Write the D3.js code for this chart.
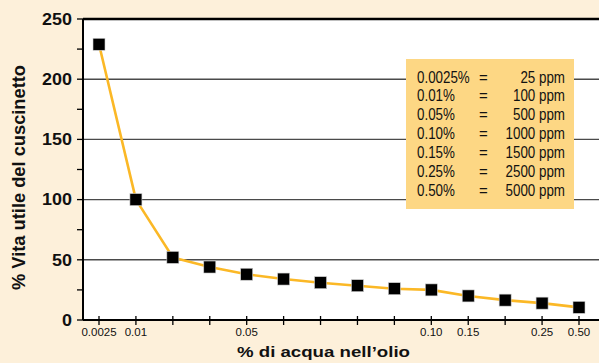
<!DOCTYPE html>
<html>
<head>
<meta charset="utf-8">
<script src="https://cdn.jsdelivr.net/npm/d3@7"></script>
<style>
  html, body { margin: 0; padding: 0; background: #fdf0da; }
  svg { display: block; }
</style>
</head>
<body>
<script>
// Bearing life vs. water content in oil
const positions = ["0.0025", "0.01", "p3", "p4", "0.05", "p6", "p7", "p8", "p9", "0.10", "0.15", "p12", "0.25", "0.50"];
const tickLabels = { "0.0025": "0.0025", "0.01": "0.01", "0.05": "0.05", "0.10": "0.10", "0.15": "0.15", "0.25": "0.25", "0.50": "0.50" };
const lifeValues = [229, 100, 52, 44, 38, 34, 31, 28.5, 26, 25, 20, 16.5, 14, 10.5];
const yTicks = [0, 50, 100, 150, 200, 250];
const legendPct = ["0.0025%", "0.01%", "0.05%", "0.10%", "0.15%", "0.25%", "0.50%"];
const legendPpm = ["25 ppm", "100 ppm", "500 ppm", "1000 ppm", "1500 ppm", "2500 ppm", "5000 ppm"];

const W = 599, H = 363;
const plot = { left: 83, right: 599, top: 19, bottom: 320 };
const sans = "'Liberation Sans', Arial, Helvetica, sans-serif";

// widen or narrow text horizontally by factor k
function stretch(sel, k) {
  sel.each(function () {
    const w = this.getComputedTextLength();
    this.setAttribute("textLength", w * k);
    this.setAttribute("lengthAdjust", "spacingAndGlyphs");
  });
}

const svg = d3.select("body").append("svg").attr("width", W).attr("height", H);

svg.append("rect").attr("width", W).attr("height", H).attr("fill", "#fdf0da");

const x = d3.scalePoint().domain(positions).range([99, 579]);
const y = d3.scaleLinear().domain([0, 250]).range([plot.bottom, plot.top]);

// plot area
svg.append("rect").attr("x", plot.left).attr("y", plot.top)
  .attr("width", plot.right - plot.left).attr("height", plot.bottom - plot.top).attr("fill", "#ffffff");

// gridlines
svg.append("g").selectAll("line").data(yTicks.filter(d => d > 0 && d < 250)).join("line")
  .attr("x1", plot.left).attr("x2", plot.right).attr("y1", d => y(d)).attr("y2", d => y(d))
  .attr("stroke", "#4a4a4a").attr("stroke-width", 1.4);

// legend box
const lg = svg.append("g");
lg.append("rect").attr("x", 406).attr("y", 59).attr("width", 168).attr("height", 150).attr("fill", "#fdd784");
const rowY = i => 82.5 + i * 18.85;
const pct = lg.selectAll("text.pct").data(legendPct).join("text").attr("class", "pct")
  .attr("x", 417).attr("y", (d, i) => rowY(i)).text(d => d)
  .attr("font-family", sans).attr("font-size", 16).attr("fill", "#111");
lg.selectAll("text.eq").data(legendPct).join("text").attr("class", "eq")
  .attr("x", 483.5).attr("y", (d, i) => rowY(i)).attr("text-anchor", "middle").text("=")
  .attr("font-family", sans).attr("font-size", 15).attr("fill", "#111");
const ppm = lg.selectAll("text.ppm").data(legendPpm).join("text").attr("class", "ppm")
  .attr("x", 565).attr("y", (d, i) => rowY(i)).attr("text-anchor", "end").text(d => d)
  .attr("font-family", sans).attr("font-size", 16).attr("fill", "#111");
stretch(pct, 0.835);
stretch(ppm, 0.835);

// top frame
svg.append("line").attr("x1", plot.left).attr("x2", plot.right).attr("y1", plot.top).attr("y2", plot.top)
  .attr("stroke", "#000").attr("stroke-width", 2.5);

// y axis
const yMinor = d3.range(25, 250, 50);
const ya = svg.append("g");
ya.append("line").attr("x1", plot.left).attr("x2", plot.left).attr("y1", plot.top).attr("y2", plot.bottom)
  .attr("stroke", "#000").attr("stroke-width", 2);
ya.selectAll("line.t").data(yTicks.concat(yMinor)).join("line").attr("class", "t")
  .attr("x1", plot.left - 6).attr("x2", plot.left).attr("y1", d => y(d)).attr("y2", d => y(d))
  .attr("stroke", "#000").attr("stroke-width", 1.3);
const yl = ya.selectAll("text").data(yTicks).join("text")
  .attr("x", 72).attr("y", d => y(d) + 5.8).attr("text-anchor", "end").text(d => d)
  .attr("font-family", sans).attr("font-weight", "bold").attr("font-size", 16).attr("fill", "#111");
stretch(yl, 1.12);

// x axis
const xa = svg.append("g");
xa.append("line").attr("x1", plot.left).attr("x2", plot.right).attr("y1", plot.bottom).attr("y2", plot.bottom)
  .attr("stroke", "#000").attr("stroke-width", 2);
xa.selectAll("line.t").data(positions).join("line").attr("class", "t")
  .attr("x1", d => x(d)).attr("x2", d => x(d)).attr("y1", plot.bottom - 4).attr("y2", plot.bottom + 5)
  .attr("stroke", "#000").attr("stroke-width", 1.3);
xa.selectAll("text").data(positions.filter(d => tickLabels[d])).join("text")
  .attr("x", d => x(d)).attr("y", 336).attr("text-anchor", "middle").text(d => tickLabels[d])
  .attr("font-family", sans).attr("font-size", 11.5).attr("fill", "#111");

// axis titles
svg.append("text").attr("x", 323.5).attr("y", 356.7).attr("text-anchor", "middle")
  .text("% di acqua nell’olio")
  .attr("textLength", 173).attr("lengthAdjust", "spacingAndGlyphs")
  .attr("font-family", sans).attr("font-weight", "bold").attr("font-size", 15.5).attr("fill", "#111");
svg.append("text").attr("transform", "translate(25,177.5) rotate(-90)").attr("text-anchor", "middle")
  .text("% Vita utile del cuscinetto")
  .attr("textLength", 225).attr("lengthAdjust", "spacingAndGlyphs")
  .attr("font-family", sans).attr("font-weight", "bold").attr("font-size", 18).attr("fill", "#111");

// data line and markers
const line = d3.line().x((d, i) => x(positions[i])).y(d => y(d));
svg.append("path").datum(lifeValues).attr("d", line).attr("fill", "none")
  .attr("stroke", "#fbb826").attr("stroke-width", 2.6).attr("stroke-linejoin", "round");
svg.append("g").selectAll("rect").data(lifeValues).join("rect")
  .attr("x", (d, i) => x(positions[i]) - 6).attr("y", d => y(d) - 6)
  .attr("width", 12).attr("height", 12).attr("fill", "#000")
  .attr("stroke", "#cfcfcf").attr("stroke-width", 0.6);
</script>
</body>
</html>
